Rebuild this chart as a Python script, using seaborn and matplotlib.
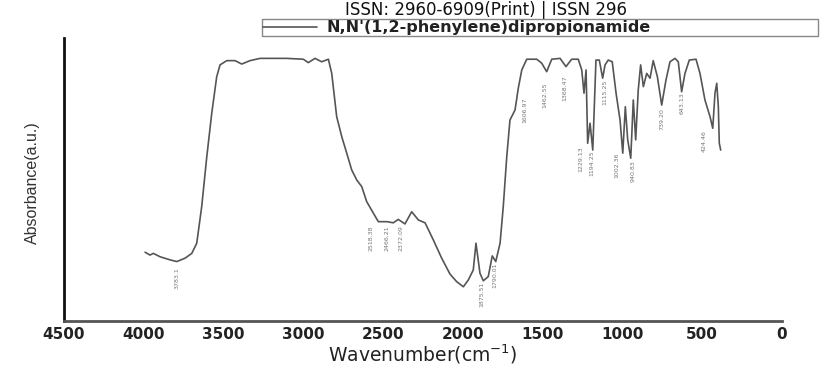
import numpy as np
import pandas as pd
import matplotlib
matplotlib.use('Agg')
import matplotlib.pyplot as plt
import seaborn as sns
from matplotlib.ticker import MultipleLocator

# FTIR spectrum (wavenumber in cm-1, absorbance in a.u.)
wavenumber = [3992, 3961, 3940, 3898, 3835, 3793, 3741, 3699, 3668, 3637,
              3605, 3574, 3543, 3522, 3480, 3428, 3386, 3334, 3271, 3104,
              3000, 2969, 2927, 2885, 2843, 2822, 2791, 2759, 2728, 2697,
              2665, 2634, 2603, 2561, 2530, 2477, 2436, 2405, 2363, 2321,
              2279, 2237, 2185, 2133, 2081, 2039, 1997, 1966, 1935, 1918,
              1893, 1872, 1841, 1816, 1794, 1767, 1747, 1725, 1705, 1673,
              1653, 1631, 1600, 1537, 1506, 1475, 1443, 1391, 1354, 1318,
              1277, 1255, 1241, 1228, 1218, 1203, 1186, 1166, 1145, 1124,
              1109, 1089, 1064, 1040, 1015, 998, 982, 967, 948, 932,
              917, 901, 886, 869, 848, 827, 807, 781, 754, 727,
              702, 671, 650, 629, 608, 581, 539, 514, 483, 451,
              434, 420, 409, 399, 393, 384]
absorbance = [24.3, 23.3, 23.9, 22.7, 21.6, 21.0, 22.2, 23.9, 27.5, 40.4,
              58.1, 73.4, 86.3, 90.5, 92.0, 92.0, 90.8, 92.0, 92.8, 92.8,
              92.5, 91.3, 92.8, 91.6, 92.5, 87.5, 72.2, 65.1, 59.3, 53.4,
              49.8, 47.5, 42.2, 38.1, 35.1, 35.1, 34.7, 35.9, 34.3, 38.6,
              35.7, 34.7, 28.6, 22.2, 16.6, 13.9, 12.1, 14.5, 18.0, 27.5,
              16.9, 14.2, 15.7, 23.0, 21.0, 27.5, 40.4, 58.1, 71.0, 74.6,
              82.2, 88.7, 92.5, 92.5, 91.1, 88.1, 92.5, 92.8, 89.9, 92.5,
              92.5, 88.7, 80.5, 88.7, 62.8, 69.9, 60.4, 92.2, 92.2, 85.8,
              90.5, 92.2, 91.6, 80.5, 71.0, 59.3, 75.7, 64.0, 57.5, 78.1,
              64.0, 81.6, 90.5, 82.8, 87.5, 85.8, 92.0, 86.3, 76.3, 85.2,
              91.6, 92.8, 91.6, 81.0, 87.5, 92.2, 92.5, 87.5, 78.1, 72.2,
              68.1, 80.5, 84.0, 75.7, 62.8, 60.4]

# peak annotations: text, where it sits (cm-1), top of the label (a.u.)
peak_labels = ['3783.1', '2518.38', '2466.21', '2372.09', '1875.51', '1790.01',
               '1606.97', '1462.55', '1368.47', '1229.13', '1194.25', '1115.25',
               '1002.36', '940.83', '739.20', '643.13', '424.46']
peak_x = [3793, 2574, 2474, 2386, 1880, 1798, 1610, 1485, 1360, 1262, 1191,
          1109, 1034, 934, 752, 627, 489]
peak_top = [19.1, 33.9, 33.9, 33.9, 13.8, 20.8, 78.8, 84.1, 86.9, 61.8, 60.4,
            85.2, 59.4, 56.9, 75.3, 80.9, 67.5]

df = pd.DataFrame({'wavenumber': wavenumber, 'absorbance': absorbance})

sns.set_style('white')
plt.rcParams['font.family'] = ['DejaVu Sans']

fig = plt.figure(figsize=(8.22, 3.69), dpi=100)
ax = fig.add_axes([64/822, 1 - 321/369, 718/822, 283/369])

sns.lineplot(data=df, x='wavenumber', y='absorbance', ax=ax, color='#555555',
             linewidth=1.2, estimator=None, sort=False,
             label="N,N'(1,2-phenylene)dipropionamide", legend=False)

for txt, px, py in zip(peak_labels, peak_x, peak_top):
    ax.text(px, py, txt, rotation=90, ha='center', va='top', fontsize=4.5,
            color='#777777')

ax.set_xlim(4500, 0)
ax.set_ylim(0, 100)
ax.xaxis.set_major_locator(MultipleLocator(500))
ax.xaxis.set_minor_locator(MultipleLocator(250))
ax.set_yticks([])
ax.tick_params(axis='x', which='major', direction='out', length=3, width=1.5,
               color='#333333', labelsize=11, pad=1)
ax.tick_params(axis='x', which='minor', direction='out', length=2, width=1.5,
               color='#333333')
for lbl in ax.get_xticklabels():
    lbl.set_fontweight('bold')
    lbl.set_color('#222222')

sns.despine(ax=ax)
ax.spines['left'].set_linewidth(2)
ax.spines['left'].set_color('#111111')
ax.spines['bottom'].set_linewidth(2)
ax.spines['bottom'].set_color('#555555')

ax.set_xlabel('Wavenumber(cm$^{-1}$)', fontsize=13.5, color='#222222', labelpad=1)
ax.set_ylabel('Absorbance(a.u.)', fontsize=11.5, color='#333333',
              family=['Liberation Sans Narrow', 'Liberation Sans'])
ax.yaxis.set_label_coords(-24/718, 0.49)

handles, labels = ax.get_legend_handles_labels()
leg = fig.legend(handles, labels, loc='lower left',
                 bbox_to_anchor=(262/822, 1 - 36/369, 556/822, 16/369),
                 mode='expand', fontsize=11.5, frameon=True, fancybox=False,
                 edgecolor='#888888', framealpha=1, handlelength=3.4,
                 handletextpad=0.6, borderpad=0.05, borderaxespad=0)
leg.get_frame().set_linewidth(1)
for t in leg.get_texts():
    t.set_fontweight('bold')
    t.set_color('#222222')

fig.text(345/822, 1 - 15/369, 'ISSN: 2960-6909(Print) | ISSN 296', fontsize=12,
         color='#111111', va='baseline', ha='left')

fig.savefig('out.png', dpi=100)
